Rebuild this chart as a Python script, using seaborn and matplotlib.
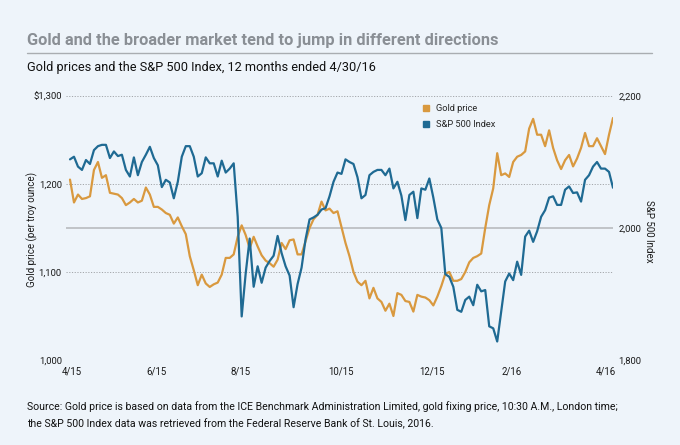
import matplotlib
matplotlib.use("Agg")
import matplotlib.pyplot as plt
import matplotlib.transforms as mtrans
from matplotlib.lines import Line2D
import numpy as np
import pandas as pd
import seaborn as sns

# ---------------- data ----------------
gold_price = [
    1205, 1179, 1188, 1183, 1184, 1186, 1216, 1225, 1207, 1210, 1190, 1189, 1188, 1184, 1176, 1179, 1183,
    1179, 1181, 1196, 1188, 1174, 1174, 1171, 1167, 1165, 1155, 1162, 1152, 1143, 1118, 1102, 1085, 1097,
    1087, 1083, 1086, 1088, 1097, 1116, 1116, 1120, 1140, 1153, 1142, 1127, 1140, 1129, 1119, 1113, 1110,
    1106, 1114, 1133, 1126, 1136, 1137, 1120, 1120, 1135, 1150, 1160, 1165, 1180, 1170, 1172, 1167, 1169,
    1151, 1133, 1118, 1100, 1089, 1085, 1090, 1070, 1082, 1070, 1066, 1056, 1064, 1050, 1076, 1074, 1067,
    1066, 1055, 1074, 1072, 1071, 1068, 1062, 1072, 1084, 1098, 1100, 1090, 1090, 1092, 1100, 1111, 1116,
    1118, 1121, 1150, 1176, 1195, 1235, 1210, 1212, 1208, 1225, 1231, 1233, 1237, 1263, 1274, 1256, 1256,
    1243, 1261, 1241, 1227, 1217, 1227, 1233, 1220, 1229, 1241, 1258, 1243, 1243, 1252, 1243, 1234, 1256, 1275,
]
sp500_index = [
    2104, 2108, 2093, 2088, 2103, 2097, 2118, 2124, 2126, 2126, 2106, 2116, 2109, 2111, 2088, 2078, 2107,
    2080, 2100, 2111, 2123, 2106, 2095, 2062, 2073, 2069, 2045, 2070, 2108, 2124, 2124, 2108, 2078, 2083,
    2107, 2098, 2098, 2078, 2102, 2084, 2090, 2098, 2017, 1866, 1931, 1984, 1911, 1942, 1917, 1940, 1950,
    1958, 1988, 1962, 1942, 1928, 1880, 1915, 1940, 1983, 2013, 2016, 2020, 2028, 2030, 2048, 2070, 2084,
    2082, 2104, 2100, 2097, 2077, 2045, 2050, 2080, 2085, 2088, 2088, 2080, 2090, 2060, 2070, 2049, 2012,
    2050, 2055, 2015, 2060, 2058, 2075, 2046, 2013, 2000, 1930, 1926, 1911, 1876, 1873, 1891, 1896, 1883,
    1914, 1904, 1906, 1851, 1848, 1828, 1873, 1919, 1931, 1921, 1949, 1929, 1987, 1996, 1979, 1995, 2017,
    2027, 2046, 2048, 2035, 2035, 2058, 2063, 2053, 2054, 2040, 2073, 2080, 2093, 2100, 2090, 2090, 2085, 2061,
]
period_start = "2015-04-30"
period_end = "2016-04-30"

x_tick_dates = ["2015-05-01", "2015-06-27", "2015-08-23", "2015-10-30",
                "2015-12-30", "2016-02-22", "2016-04-25"]
x_tick_labels = ["4/15", "6/15", "8/15", "10/15", "12/15", "2/16", "4/16"]

gold_ticks = [1000, 1100, 1200, 1300]
gold_tick_labels = ["1,000", "1,100", "1,200", "$1,300"]
sp_ticks = [1800, 2000, 2200]
sp_tick_labels = ["1,800", "2,000", "2,200"]

series_names = ["Gold price", "S&P 500 Index"]

title = "Gold and the broader market tend to jump in different directions"
subtitle = "Gold prices and the S&P 500 Index, 12 months ended 4/30/16"
left_label = "Gold price (per troy ounce)"
right_label = "S&P 500 Index"
source_lines = [
    "Source: Gold price is based on data from the ICE Benchmark Administration Limited, gold fixing price, 10:30 A.M., London time;",
    "the S&P 500 Index data was retrieved from the Federal Reserve Bank of St. Louis, 2016.",
]

# ---------------- styling ----------------
BG = "#EEF4FA"
GOLD = "#D9993F"
BLUE = "#1F6A93"
GRID = "#A3A6AA"
TITLE_GRAY = "#8A8F95"
TXT = "#1a1a1a"

sns.set_theme(style="white")
plt.rcParams["font.family"] = ["Roboto", "DejaVu Sans"]

dates = pd.date_range(period_start, period_end, periods=len(gold_price))
df = pd.DataFrame({"date": dates, "gold": gold_price, "sp": sp500_index})

W, H = 680, 445
fig = plt.figure(figsize=(W / 100, H / 100), dpi=100, facecolor=BG)
ax = fig.add_axes([66 / W, 1 - 360 / H, (613 - 66) / W, 264 / H])
ax.set_facecolor(BG)
ax2 = ax.twinx()
ax2.set_facecolor("none")

# gridlines: dotted at gold ticks, solid at S&P 2,000
for t in gold_ticks:
    ax.axhline(t, color=GRID, lw=0.7, ls=(0, (1.2, 1.6)), zorder=1)
blend = mtrans.blended_transform_factory(ax.transAxes, ax2.transData)
ax.plot([0, 1], [2000, 2000], transform=blend, color="#B4B6B9", lw=1.1, zorder=1)

sns.lineplot(data=df, x="date", y="gold", ax=ax, color=GOLD, lw=1.6, zorder=3)
sns.lineplot(data=df, x="date", y="sp", ax=ax2, color=BLUE, lw=1.6, zorder=3)

ax.set_ylim(1000, 1300)
ax2.set_ylim(1800, 2200)
px_per_day = (613 - 70) / (pd.Timestamp(period_end) - pd.Timestamp(period_start)).days
ax.set_xlim(pd.Timestamp(period_start) - pd.Timedelta(days=4 / px_per_day), pd.Timestamp(period_end))

for a in (ax, ax2):
    for s in a.spines.values():
        s.set_visible(False)
    a.set_xlabel("")
    a.set_ylabel("")
    a.grid(False)

ax.set_yticks(gold_ticks)
ax.set_yticklabels(gold_tick_labels)
ax2.set_yticks(sp_ticks)
ax2.set_yticklabels(sp_tick_labels)
ax.set_xticks(pd.to_datetime(x_tick_dates))
ax.set_xticklabels(x_tick_labels)
ax.tick_params(axis="y", length=0, pad=3, labelsize=6.8, colors=TXT)
ax2.tick_params(axis="y", length=0, pad=4, labelsize=6.8, colors=TXT)
ax.tick_params(axis="x", length=0, pad=5, labelsize=6.9, colors=TXT)

# legend
handles = [Line2D([], [], marker="s", ls="none", color=c, markersize=5.0) for c in (GOLD, BLUE)]
ax2.legend(handles, series_names, loc="upper left", bbox_to_anchor=(422 / W, 1 - 104 / H),
           bbox_transform=fig.transFigure, frameon=False, handlelength=0.8, handletextpad=0.7,
           labelspacing=0.75, borderpad=0, borderaxespad=0, fontsize=6.7)

# texts
fig.text(27 / W, 1 - 40 / H, title, ha="left", va="center", fontsize=11.8,
         fontweight="bold", color=TITLE_GRAY)
fig.add_artist(Line2D([27 / W, 652 / W], [1 - 53 / H, 1 - 53 / H], color="#A9ADB1", lw=1.0))
fig.text(27 / W, 1 - 68 / H, subtitle, ha="left", va="center", fontsize=9.2, color="#111111")
fig.text(32 / W, 1 - 229 / H, left_label, rotation=90, ha="center", va="center",
         fontsize=7.0, color=TXT)
fig.text(649 / W, 1 - 231 / H, right_label, rotation=-90, ha="center", va="center",
         fontsize=7.0, color=TXT)
fig.text(27 / W, 1 - 407 / H, source_lines[0], ha="left", va="center", fontsize=7.6, color="#111111")
fig.text(27 / W, 1 - 424 / H, source_lines[1], ha="left", va="center", fontsize=7.6, color="#111111")

fig.savefig("out.png", dpi=100, facecolor=BG)
